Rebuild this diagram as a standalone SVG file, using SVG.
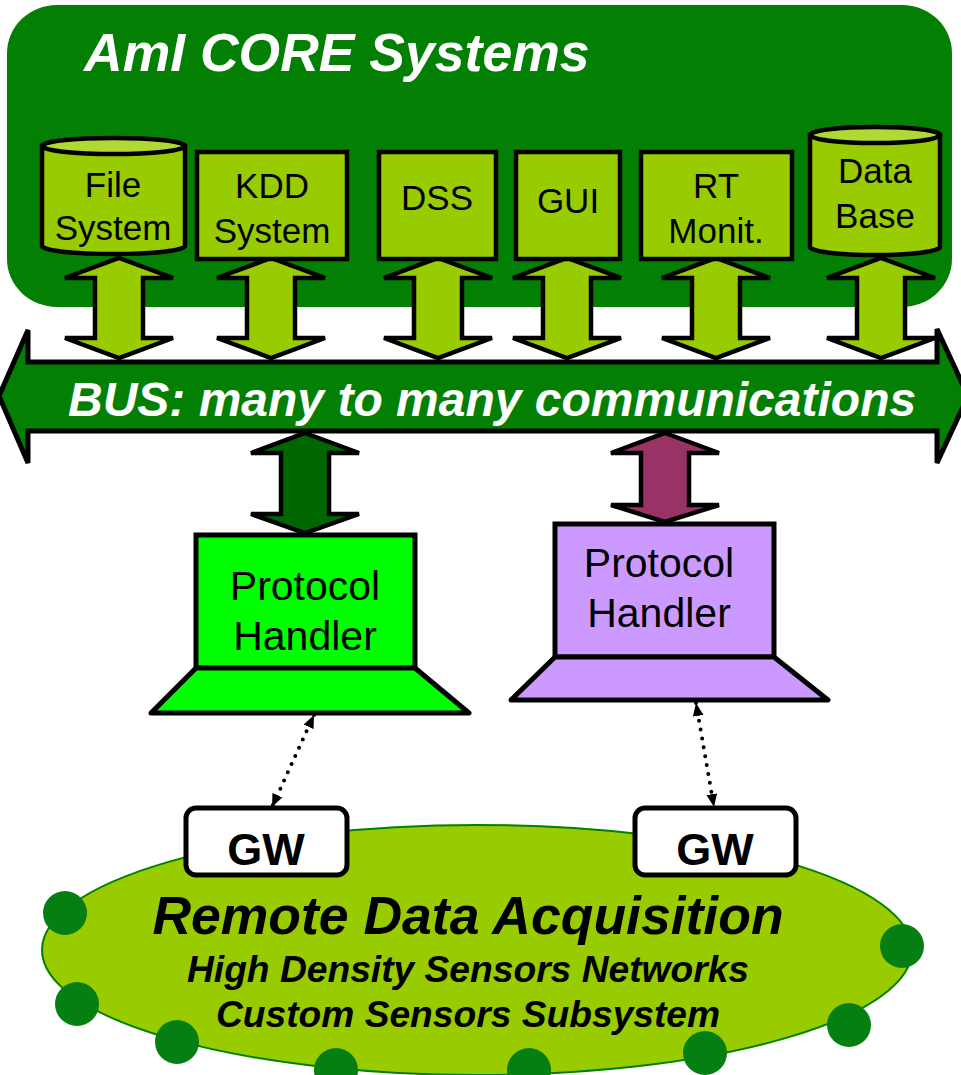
<svg xmlns="http://www.w3.org/2000/svg" width="961" height="1075" viewBox="0 0 961 1075">
<style>
text{font-family:"Liberation Sans",Arial,sans-serif;}
.box{fill:#99CC00;stroke:#000;stroke-width:4.5;}
.cyltop{fill:#B0DA33;stroke:#000;stroke-width:4.5;}
.lbl{font-size:35px;fill:#000;text-anchor:middle;}
.arr{fill:#99CC00;stroke:#000;stroke-width:4.5;stroke-linejoin:miter;}
.ph{font-size:41px;fill:#000;text-anchor:middle;}
.gw{fill:#fff;stroke:#000;stroke-width:5;}
.gwt{font-size:45px;font-weight:bold;fill:#000;text-anchor:middle;}
.dot{fill:none;stroke:#000;stroke-width:4;stroke-linecap:round;stroke-dasharray:0 9;}
.sensor{fill:#067F12;}
</style>
<defs>
<marker id="ah" viewBox="0 0 12 10" refX="12" refY="5" markerWidth="13" markerHeight="11" markerUnits="userSpaceOnUse" orient="auto-start-reverse">
<path d="M0,0 L12,5 L0,10 Z" fill="#000"/>
</marker>
</defs>

<g id="core">
<rect x="7" y="5" width="945" height="302" rx="50" ry="48" fill="#037F03"/>
<text x="84" y="71" font-size="53.5" font-weight="bold" font-style="italic" fill="#fff">AmI CORE Systems</text>
</g>

<g id="connectors">
<path class="arr" d="M119,258 L173,278 L143,278 L143,338 L173,338 L119,358 L65,338 L95,338 L95,278 L65,278 Z"/>
<path class="arr" d="M271,258 L325,278 L295,278 L295,338 L325,338 L271,358 L217,338 L247,338 L247,278 L217,278 Z"/>
<path class="arr" d="M438,258 L492,278 L462,278 L462,338 L492,338 L438,358 L384,338 L414,338 L414,278 L384,278 Z"/>
<path class="arr" d="M567,258 L621,278 L591,278 L591,338 L621,338 L567,358 L513,338 L543,338 L543,278 L513,278 Z"/>
<path class="arr" d="M716,258 L770,278 L740,278 L740,338 L770,338 L716,358 L662,338 L692,338 L692,278 L662,278 Z"/>
<path class="arr" d="M881,258 L935,278 L905,278 L905,338 L935,338 L881,358 L827,338 L857,338 L857,278 L827,278 Z"/>
<path class="arr" style="fill:#006600" d="M305,433 L359,453 L329,453 L329,514 L359,514 L305,533 L251,514 L281,514 L281,453 L251,453 Z"/>
<path class="arr" style="fill:#993366" d="M665,433 L719,453 L689,453 L689,505 L719,505 L665,522 L611,505 L641,505 L641,453 L611,453 Z"/>
<line class="dot" x1="314" y1="715" x2="272" y2="807" marker-start="url(#ah)" marker-end="url(#ah)"/>
<line class="dot" x1="696" y1="703" x2="714" y2="807" marker-start="url(#ah)" marker-end="url(#ah)"/>
</g>

<g id="file-system">
<path class="box" d="M42,146 L42,246 A71.5,8 0 0 0 185,246 L185,146 Z"/>
<ellipse class="cyltop" cx="113.5" cy="146" rx="71.5" ry="8"/>
<text class="lbl" x="113" y="197">File</text>
<text class="lbl" x="113" y="240">System</text>
</g>
<g id="kdd-system">
<rect class="box" x="197" y="152" width="150" height="107"/>
<text class="lbl" x="272" y="198">KDD</text>
<text class="lbl" x="272" y="243">System</text>
</g>
<g id="dss">
<rect class="box" x="379" y="152" width="117" height="107"/>
<text class="lbl" x="437" y="210">DSS</text>
</g>
<g id="gui">
<rect class="box" x="516" y="152" width="104" height="107"/>
<text class="lbl" x="568" y="213">GUI</text>
</g>
<g id="rt-monit">
<rect class="box" x="641" y="152" width="151" height="107"/>
<text class="lbl" x="716" y="198">RT</text>
<text class="lbl" x="716" y="243">Monit.</text>
</g>
<g id="data-base">
<path class="box" d="M810,135 L810,247 A65,8 0 0 0 940,247 L940,135 Z"/>
<ellipse class="cyltop" cx="875" cy="135" rx="65" ry="8"/>
<text class="lbl" x="875" y="183">Data</text>
<text class="lbl" x="875" y="228">Base</text>
</g>

<g id="bus">
<path d="M-1,396 L28,330 L28,362 L937,362 L937,329 L968,396 L937,463 L937,431 L28,431 L28,463 Z" fill="#037F03" stroke="#000" stroke-width="5"/>
<text x="68" y="416" font-size="48" font-weight="bold" font-style="italic" fill="#fff">BUS: many to many communications</text>
</g>

<g id="protocol-handler-1">
<rect x="196" y="535" width="219" height="133" fill="#00FF00" stroke="#000" stroke-width="5"/>
<path d="M196,668 L415,668 L469,713 L151,713 Z" fill="#00FF00" stroke="#000" stroke-width="5" stroke-linejoin="round"/>
<text class="ph" x="305" y="600">Protocol</text>
<text class="ph" x="305" y="650">Handler</text>
</g>
<g id="protocol-handler-2">
<rect x="555" y="524" width="219" height="133" fill="#CC99FF" stroke="#000" stroke-width="5"/>
<path d="M555,657 L774,657 L828,700 L511,700 Z" fill="#CC99FF" stroke="#000" stroke-width="5" stroke-linejoin="round"/>
<text class="ph" x="659" y="577">Protocol</text>
<text class="ph" x="659" y="627">Handler</text>
</g>

<g id="remote-data-acquisition">
<ellipse cx="477" cy="950" rx="435" ry="125" fill="#99CC00" stroke="#008000" stroke-width="2"/>
<circle class="sensor" cx="65" cy="913" r="22"/>
<circle class="sensor" cx="77" cy="1004" r="22"/>
<circle class="sensor" cx="177" cy="1042" r="22"/>
<circle class="sensor" cx="336" cy="1070" r="22"/>
<circle class="sensor" cx="529" cy="1070" r="22"/>
<circle class="sensor" cx="705" cy="1053" r="22"/>
<circle class="sensor" cx="849" cy="1025" r="22"/>
<circle class="sensor" cx="902" cy="946" r="22"/>
<text x="468" y="934" font-size="53.5" font-weight="bold" font-style="italic" fill="#000" text-anchor="middle">Remote Data Acquisition</text>
<text x="468" y="982" font-size="37.2" font-weight="bold" font-style="italic" fill="#000" text-anchor="middle">High Density Sensors Networks</text>
<text x="468" y="1027" font-size="37.2" font-weight="bold" font-style="italic" fill="#000" text-anchor="middle">Custom Sensors Subsystem</text>
</g>

<g id="gw-1">
<rect class="gw" x="186" y="808" width="161" height="67" rx="10"/>
<text class="gwt" x="266" y="865">GW</text>
</g>
<g id="gw-2">
<rect class="gw" x="635" y="808" width="161" height="67" rx="10"/>
<text class="gwt" x="715" y="865">GW</text>
</g>
</svg>
